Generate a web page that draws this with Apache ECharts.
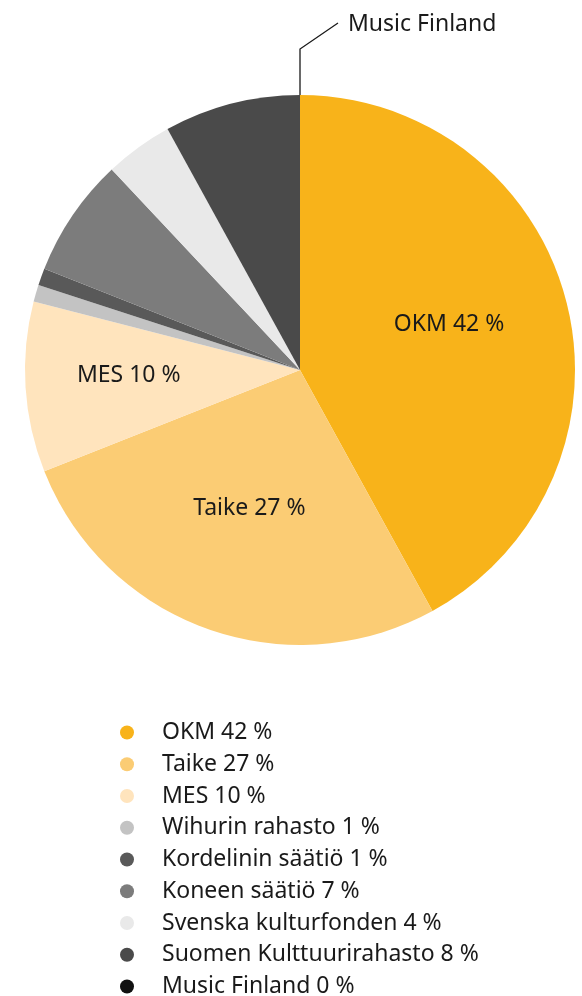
<!DOCTYPE html>
<html>
<head>
<meta charset="utf-8">
<script src="https://cdn.jsdelivr.net/npm/echarts@6/dist/echarts.min.js"></script>
<style>
  html, body { margin: 0; padding: 0; background: #fff; }
  #chart { width: 582px; height: 996px; }
</style>
</head>
<body>
<div id="chart"></div>
<script>
const names = ['OKM', 'Taike', 'MES', 'Wihurin rahasto', 'Kordelinin säätiö', 'Koneen säätiö',
  'Svenska kulturfonden', 'Suomen Kulttuurirahasto', 'Music Finland'];
const shares = [42, 27, 10, 1, 1, 7, 4, 8, 0];
const colors = ['#f8b31a', '#fbcc74', '#ffe4bd', '#c3c3c3', '#595959', '#7c7c7c',
  '#e9e9e9', '#4a4a4a', '#111111'];

// which slices get a label, and small nudges for the inner ones
const innerLabels = { 'OKM': [13, -11], 'Taike': [-3, 6], 'MES': [-31, -3] };
const outerLabel = 'Music Finland';

const font = '"Noto Sans", Roboto, sans-serif';
const chart = echarts.init(document.getElementById('chart'));

const pieData = names.map((name, i) => {
  const item = { name: name, value: shares[i], itemStyle: { color: colors[i] } };
  if (innerLabels[name]) {
    item.label = { show: true, position: 'inside', offset: innerLabels[name],
      formatter: '{b} {c} %' };
  } else if (name === outerLabel) {
    item.label = { show: true, position: 'outside', formatter: '{b}' };
    item.labelLine = { show: true, length: 46, length2: 38,
      lineStyle: { color: '#1a1a1a', width: 1.3 } };
  }
  return item;
});

const option = {
  animation: false,
  legend: {
    orient: 'vertical',
    left: 120,
    top: 721,
    height: 300,
    padding: 0,
    icon: 'circle',
    itemWidth: 14,
    itemHeight: 14,
    itemGap: 8.75,
    selectedMode: false,
    data: names,
    formatter: name => name + ' ' + shares[names.indexOf(name)] + ' %',
    textStyle: { fontFamily: font, fontSize: 23, color: '#1a1a1a',
      padding: [0, 0, 0, 23] }
  },
  series: [{
    type: 'pie',
    center: [300, 370],
    radius: 275,
    startAngle: 90,
    clockwise: true,
    avoidLabelOverlap: false,
    emphasis: { disabled: true },
    label: { show: false, fontFamily: font, fontSize: 23, color: '#1a1a1a' },
    labelLine: { show: false },
    labelLayout: function (params) {
      if (names[params.dataIndex] !== outerLabel || !params.labelLinePoints) return {};
      const p0 = params.labelLinePoints[0];
      return {
        x: p0[0] + 48,
        y: p0[1] - 71,
        align: 'left',
        verticalAlign: 'middle',
        labelLinePoints: [p0, [p0[0], p0[1] - 46], [p0[0] + 38, p0[1] - 72]]
      };
    },
    data: pieData
  }]
};

chart.setOption(option);
</script>
</body>
</html>
